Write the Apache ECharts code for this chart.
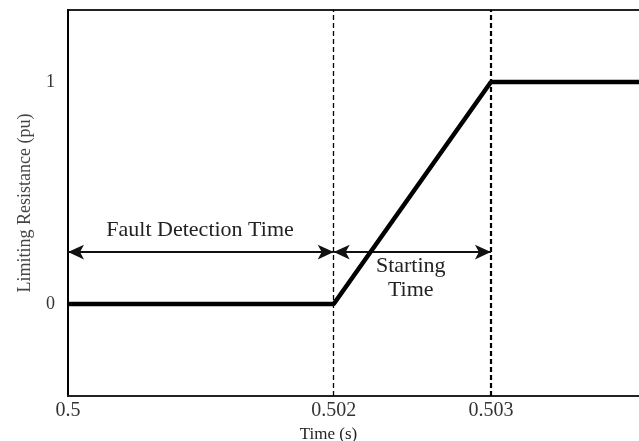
<!DOCTYPE html>
<html>
<head>
<meta charset="utf-8">
<script src="https://cdn.jsdelivr.net/npm/echarts@6/dist/echarts.min.js"></script>
<style>html,body{margin:0;padding:0;background:#fff}#c{width:639px;height:441px}</style>
</head>
<body>
<div id="c"></div>
<script>
// Data
var timePoints = [0.5, 0.502, 0.503, 0.50398];
var resistance = [0, 0, 1, 1];
var xTickValues = [0.5, 0.502, 0.503];
var yTickValues = [0, 1];
var markerTimes = [0.502, 0.503];
var faultSpan = [0.5, 0.502];
var startSpan = [0.502, 0.503];
var arrowLevel = 0.234;
var faultLabel = 'Fault Detection Time';
var startLabel = 'Starting\nTime';
var faultLabelPos = [0.50115, 0.333];
var startLabelPos = [0.50249, 0.117];
var yMin = -0.414, yMax = 1.324;

var serif = '"Liberation Serif","DejaVu Serif",serif';
var chart = echarts.init(document.getElementById('c'), null, {renderer: 'canvas'});
var lineData = timePoints.map(function (t, i) { return [t, resistance[i]]; });

var dashed = markerTimes.map(function (t, i) {
  return [
    {coord: [t, yMin], lineStyle: {color: '#000', width: i === 0 ? 1.3 : 2.2, type: [5, 3]}},
    {coord: [t, yMax]}
  ];
});
var arrows = [faultSpan, startSpan].map(function (s) {
  return [
    {coord: [s[0], arrowLevel], symbol: 'arrow', lineStyle: {color: '#111', width: 2, type: 'solid'}},
    {coord: [s[1], arrowLevel], symbol: 'arrow'}
  ];
});

chart.setOption({
  animation: false,
  backgroundColor: '#fff',
  grid: {left: 68, right: -6, top: 10, bottom: 45, show: true, borderColor: '#222', borderWidth: 2,
    containLabel: false, outerBoundsMode: 'none'},
  xAxis: {
    type: 'value', min: 0.5, max: 0.50398,
    breaks: [{start: 0.5002, end: 0.50051, gap: 0}],
    breakArea: {show: false},
    name: 'Time (s)', nameLocation: 'middle', nameGap: 29,
    nameTextStyle: {fontFamily: serif, fontSize: 17, color: '#222', padding: [0, 56, 0, 0]},
    axisLine: {show: true, onZero: false, lineStyle: {color: '#222', width: 2}},
    axisTick: {show: false},
    splitLine: {show: false},
    axisLabel: {customValues: xTickValues, fontFamily: serif, fontSize: 20, color: '#333', margin: 5,
      formatter: function (v) { return String(+v.toFixed(3)); }}
  },
  yAxis: {
    type: 'value', min: yMin, max: yMax,
    name: 'Limiting Resistance (pu)', nameLocation: 'middle', nameGap: 34,
    nameTextStyle: {fontFamily: serif, fontSize: 18, color: '#444'},
    axisLine: {show: true, onZero: false, lineStyle: {color: '#000', width: 2}},
    axisTick: {show: false},
    splitLine: {show: false},
    axisLabel: {customValues: yTickValues, fontFamily: serif, fontSize: 18, color: '#333', margin: 13}
  },
  series: [{
    type: 'line',
    data: lineData,
    symbol: 'none',
    lineStyle: {color: '#000', width: 4.5},
    z: 5,
    markLine: {
      silent: true,
      symbol: ['none', 'none'],
      symbolSize: [11, 16],
      label: {show: false},
      data: dashed.concat(arrows)
    },
    markPoint: {
      silent: true,
      symbol: 'circle', symbolSize: 0,
      label: {show: true, position: 'inside', fontFamily: serif, color: '#222', fontSize: 22, lineHeight: 24},
      data: [
        {coord: faultLabelPos, value: faultLabel, label: {formatter: faultLabel}},
        {coord: startLabelPos, value: startLabel, label: {formatter: startLabel}}
      ]
    }
  }]
});
</script>
</body>
</html>
